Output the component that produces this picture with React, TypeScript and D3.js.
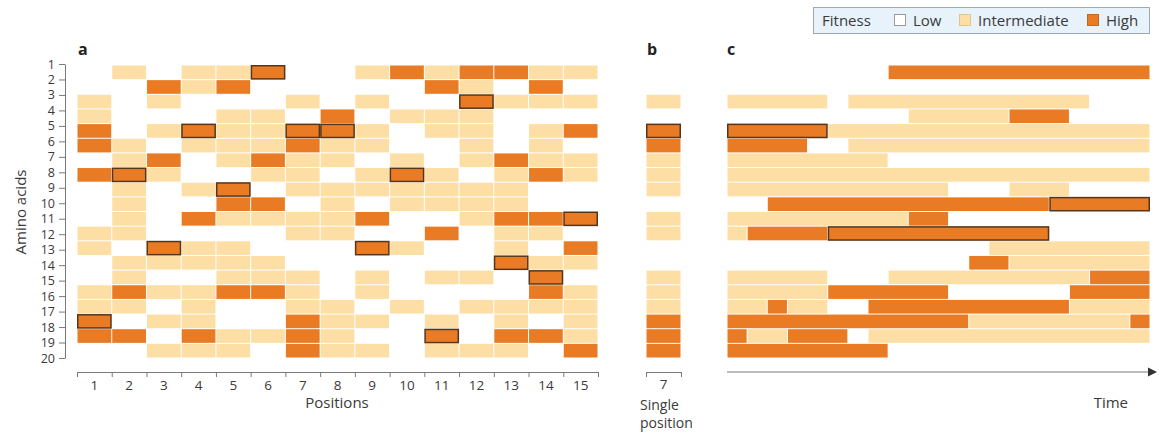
import React, { useEffect, useRef } from 'react'
import * as d3 from 'd3'

// fitness per cell: 0 low, 1 intermediate, 2 high, 3 high + outlined
const positions = [1, 2, 3, 4, 5, 6, 7, 8, 9, 10, 11, 12, 13, 14, 15]
const aminoAcids = [1, 2, 3, 4, 5, 6, 7, 8, 9, 10, 11, 12, 13, 14, 15, 16, 17, 18, 19, 20]

// panel a, one string per amino acid, one char per position
const positionRows = [
  '010113001212211',
  '002120000021020',
  '101000101003111',
  '100011020111000',
  '201311331011012',
  '210111211001010',
  '012012110101211',
  '231001101310121',
  '010130111111100',
  '010022010111100',
  '010211112001223',
  '110000110020110',
  '103110003100102',
  '011111000000311',
  '010011101011030',
  '121122101000021',
  '110100110101111',
  '301100211010101',
  '220211210030221',
  '001110211011102',
]

// panel b
const singlePosition = 7

// panel c, one char per time step
const timeSteps = 21
const timeRows = [
  '000000002222222222222',
  '000000000000000000000',
  '111110111111111111000',
  '000000000111112220000',
  '333331111111111111111',
  '222200111111111111111',
  '111111110000000000000',
  '111111111111111111111',
  '111111111110001110000',
  '002222222222222233333',
  '111111111220000000000',
  '122223333333333300000',
  '000000000000011111111',
  '000000000000221111111',
  '111110001111111111222',
  '111112222220000002222',
  '112110022222222221111',
  '222222222222111111112',
  '211222011111111111111',
  '222222220000000000000',
]

const legendLabels = ['Low', 'Intermediate', 'High']

const fills = ['#ffffff', '#fddfa5', '#e87b24', '#e87b24']
const font = '"Open Sans", "Noto Sans", sans-serif'
const textColor = '#3a3a3a'
const axisColor = '#7a7a7a'

const App = () => {
  const svgRef = useRef<SVGSVGElement>(null)
  const width = 1160
  const height = 435

  const draw = () => {
    const svg = d3.select(svgRef.current)
    svg.selectAll('*').remove()
    svg.attr('viewBox', [0, 0, width, height]).style('font-family', font)

    const y = d3.scaleBand<number>().domain(aminoAcids).range([65, 358])
    const x = d3.scaleBand<number>().domain(positions).range([77, 598])
    const xb = d3.scaleBand<number>().domain([singlePosition]).range([646, 681])
    const t = d3.scaleLinear().domain([0, timeSteps]).range([727, 1150])

    const cell = (g, x0, x1, row, level) => {
      if (level === 0) return
      const r = g.append('rect').attr('fill', fills[level])
      if (level === 3) {
        r.attr('x', x0 + 0.75)
          .attr('y', y(row) + 0.75)
          .attr('width', x1 - x0 - 1.5)
          .attr('height', y.bandwidth() - 1.5)
          .attr('stroke', '#55361c')
          .attr('stroke-width', 1.5)
      } else {
        r.attr('x', x0 + 0.5)
          .attr('y', y(row) + 0.5)
          .attr('width', x1 - x0 - 1)
          .attr('height', y.bandwidth() - 1)
      }
    }

    // a
    const ga = svg.append('g')
    const boxedA = svg.append('g')
    positionRows.forEach((row, i) => {
      row.split('').forEach((ch, j) => {
        const lv = +ch
        cell(lv === 3 ? boxedA : ga, x(positions[j]), x(positions[j]) + x.bandwidth(), aminoAcids[i], lv)
      })
    })

    // b
    const gb = svg.append('g')
    const boxedB = svg.append('g')
    positionRows.forEach((row, i) => {
      const lv = +row[singlePosition - 1]
      cell(lv === 3 ? boxedB : gb, xb(singlePosition), xb(singlePosition) + xb.bandwidth(), aminoAcids[i], lv)
    })

    // c: merge runs of equal level
    const gc = svg.append('g')
    const boxedC = svg.append('g')
    timeRows.forEach((row, i) => {
      let start = 0
      for (let k = 1; k <= row.length; k++) {
        if (k === row.length || row[k] !== row[start]) {
          const lv = +row[start]
          cell(lv === 3 ? boxedC : gc, t(start), t(k), aminoAcids[i], lv)
          start = k
        }
      }
    })

    // y axis
    const ya = d3.scalePoint<number>().domain(aminoAcids).range([64, 358])
    const yAxis = svg
      .append('g')
      .attr('transform', 'translate(65,0)')
      .call(d3.axisLeft(ya).tickSize(6).tickSizeOuter(0).tickPadding(4))
    yAxis.selectAll('path,line').attr('stroke', axisColor)
    yAxis.selectAll('text').attr('font-size', 12.5).attr('fill', textColor).attr('font-family', font)

    svg
      .append('text')
      .attr('transform', 'translate(26,212) rotate(-90)')
      .attr('text-anchor', 'middle')
      .attr('font-size', 15)
      .attr('fill', textColor)
      .text('Amino acids')

    // x axis a
    const xl = d3.scaleLinear().domain([0, positions.length]).range([77, 598])
    const xAxis = svg
      .append('g')
      .attr('transform', 'translate(0,372)')
      .call(d3.axisBottom(xl).tickValues(d3.range(0, positions.length + 1)).tickFormat(() => '').tickSize(5).tickSizeOuter(0))
    xAxis.selectAll('path,line').attr('stroke', axisColor)

    svg
      .append('g')
      .selectAll('text')
      .data(positions)
      .join('text')
      .attr('x', (d) => x(d) + x.bandwidth() / 2)
      .attr('y', 390)
      .attr('text-anchor', 'middle')
      .attr('font-size', 13.5)
      .attr('fill', textColor)
      .text((d) => d)

    svg
      .append('text')
      .attr('x', 337)
      .attr('y', 408)
      .attr('text-anchor', 'middle')
      .attr('font-size', 15)
      .attr('fill', textColor)
      .text('Positions')

    // x axis b
    const xbl = d3.scaleLinear().domain([0, 1]).range([646, 681])
    const bAxis = svg
      .append('g')
      .attr('transform', 'translate(0,372)')
      .call(d3.axisBottom(xbl).tickValues([0, 1]).tickFormat(() => '').tickSize(5).tickSizeOuter(0))
    bAxis.selectAll('path,line').attr('stroke', axisColor)

    svg
      .append('text')
      .attr('x', xb(singlePosition) + xb.bandwidth() / 2)
      .attr('y', 389)
      .attr('text-anchor', 'middle')
      .attr('font-size', 13.5)
      .attr('fill', textColor)
      .text(singlePosition)

    svg
      .append('text')
      .attr('x', 640)
      .attr('y', 410)
      .attr('font-size', 14)
      .attr('fill', textColor)
      .text('Single')
    svg
      .append('text')
      .attr('x', 640)
      .attr('y', 428)
      .attr('font-size', 14)
      .attr('fill', textColor)
      .text('position')

    // time arrow
    svg
      .append('line')
      .attr('x1', t(0))
      .attr('x2', t(timeSteps))
      .attr('y1', 372)
      .attr('y2', 372)
      .attr('stroke', axisColor)
    svg
      .append('path')
      .attr('d', `M${t(timeSteps) + 7},372 L${t(timeSteps) - 2},367.5 L${t(timeSteps) - 2},376.5 Z`)
      .attr('fill', '#333')

    svg
      .append('text')
      .attr('x', 1128)
      .attr('y', 408)
      .attr('text-anchor', 'end')
      .attr('font-size', 15)
      .attr('fill', textColor)
      .text('Time')

    // panel letters
    svg
      .append('g')
      .selectAll('text')
      .data([
        ['a', 78],
        ['b', 647],
        ['c', 727],
      ])
      .join('text')
      .attr('x', (d) => d[1])
      .attr('y', 55)
      .attr('font-size', 16)
      .attr('font-weight', 'bold')
      .attr('fill', '#222')
      .text((d) => d[0])

    // legend
    const lg = svg.append('g')
    lg.append('rect')
      .attr('x', 813.5)
      .attr('y', 7.5)
      .attr('width', 336)
      .attr('height', 26)
      .attr('fill', '#e7f2fb')
      .attr('stroke', '#9ea9b2')
    lg.append('text')
      .attr('x', 822)
      .attr('y', 26)
      .attr('font-size', 15)
      .attr('fill', textColor)
      .text('Fitness')
    const swatchX = [894, 959, 1087]
    legendLabels.forEach((lab, i) => {
      lg.append('rect')
        .attr('x', swatchX[i] + 0.5)
        .attr('y', 14.5)
        .attr('width', 11)
        .attr('height', 11)
        .attr('fill', fills[i])
        .attr('stroke', i === 0 ? '#9a9a9a' : i === 1 ? '#e3c48a' : '#c9661c')
      lg.append('text')
        .attr('x', swatchX[i] + 19)
        .attr('y', 26)
        .attr('font-size', 15)
        .attr('fill', textColor)
        .text(lab)
    })
  }

  useEffect(() => {
    draw()
  }, [])

  return (
    <div style={{ position: 'fixed', left: 0, top: 0, width, height, background: '#fff' }}>
      <svg ref={svgRef} width={width} height={height}></svg>
    </div>
  )
}

export default App
